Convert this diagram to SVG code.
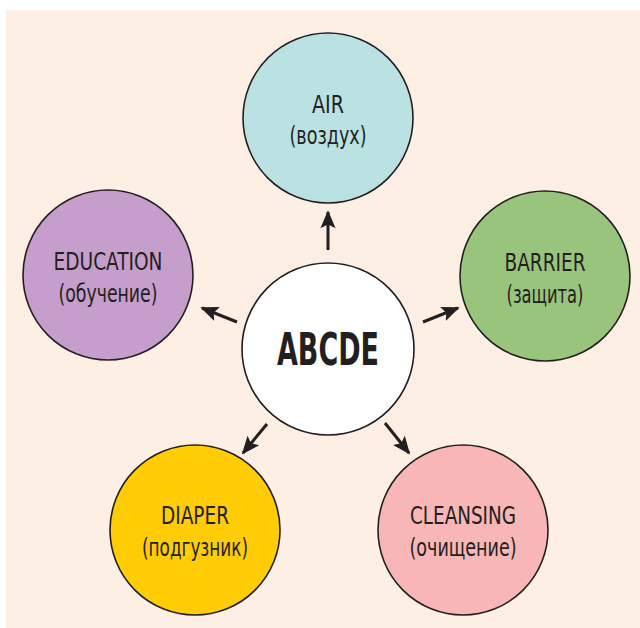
<svg xmlns="http://www.w3.org/2000/svg" width="640" height="628" viewBox="0 0 640 628">
  <defs>
    <marker id="head" viewBox="0 0 10 10" refX="9" refY="5" markerWidth="6" markerHeight="6" orient="auto" markerUnits="strokeWidth">
      <path d="M0,0.8 L10,5 L0,9.2 L2,5 Z" fill="#231f20"/>
    </marker>
    <style>
      .node { stroke: #231f20; stroke-width: 1.6; }
      .lbl { font-family: "DejaVu Sans Condensed", "Liberation Sans Narrow", "Liberation Sans", sans-serif; font-size: 24.5px; fill: #231f20; text-anchor: middle; }
      .hub { font-family: "DejaVu Sans Condensed", "Liberation Sans Narrow", "Liberation Sans", sans-serif; font-size: 45px; font-weight: bold; fill: #231f20; text-anchor: middle; }
      .link { stroke: #231f20; stroke-width: 3; fill: none; marker-end: url(#head); }
    </style>
  </defs>

  <rect x="6" y="10" width="634" height="618" fill="#fdefe3"/>

  <g id="connectors">
    <line class="link" x1="328" y1="250" x2="328" y2="212"/>
    <line class="link" x1="237" y1="322" x2="202" y2="308"/>
    <line class="link" x1="423" y1="322" x2="458" y2="308"/>
    <line class="link" x1="267" y1="424" x2="243" y2="453"/>
    <line class="link" x1="385" y1="423" x2="409" y2="453"/>
  </g>

  <g id="air">
    <circle class="node" cx="328" cy="118" r="85" fill="#bae2e2"/>
    <text class="lbl" x="328" y="113" textLength="32" lengthAdjust="spacingAndGlyphs">AIR</text>
    <text class="lbl" x="328" y="144" textLength="77" lengthAdjust="spacingAndGlyphs">(воздух)</text>
  </g>

  <g id="education">
    <circle class="node" cx="108" cy="275" r="85" fill="#c59ecb"/>
    <text class="lbl" x="108" y="270" textLength="109" lengthAdjust="spacingAndGlyphs">EDUCATION</text>
    <text class="lbl" x="108" y="302" textLength="99" lengthAdjust="spacingAndGlyphs">(обучение)</text>
  </g>

  <g id="barrier">
    <circle class="node" cx="545" cy="276" r="85" fill="#99c47b"/>
    <text class="lbl" x="545" y="271" textLength="81" lengthAdjust="spacingAndGlyphs">BARRIER</text>
    <text class="lbl" x="545" y="303" textLength="77" lengthAdjust="spacingAndGlyphs">(защита)</text>
  </g>

  <g id="abcde">
    <circle class="node" cx="328" cy="349" r="86" fill="#ffffff"/>
    <text class="hub" x="328" y="365" textLength="102" lengthAdjust="spacingAndGlyphs">ABCDE</text>
  </g>

  <g id="diaper">
    <circle class="node" cx="195" cy="530" r="85" fill="#ffcc05"/>
    <text class="lbl" x="195" y="524" textLength="68" lengthAdjust="spacingAndGlyphs">DIAPER</text>
    <text class="lbl" x="195" y="556" textLength="106" lengthAdjust="spacingAndGlyphs">(подгузник)</text>
  </g>

  <g id="cleansing">
    <circle class="node" cx="463" cy="530" r="85" fill="#f8b6b6"/>
    <text class="lbl" x="463" y="524" textLength="106" lengthAdjust="spacingAndGlyphs">CLEANSING</text>
    <text class="lbl" x="463" y="556" textLength="107" lengthAdjust="spacingAndGlyphs">(очищение)</text>
  </g>
</svg>
